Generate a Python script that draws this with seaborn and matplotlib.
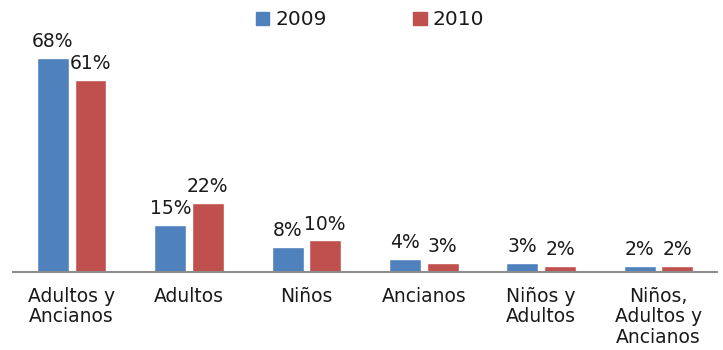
import matplotlib
matplotlib.use("Agg")
import matplotlib.pyplot as plt
import seaborn as sns
import pandas as pd

categories = ["Adultos y\nAncianos", "Adultos", "Niños", "Ancianos",
              "Niños y\nAdultos", "Niños,\nAdultos y\nAncianos"]
years = ["2009", "2010"]
values_2009 = [68, 15, 8, 4, 3, 2]
values_2010 = [61, 22, 10, 3, 2, 2]
colors = ["#4F81BD", "#C0504D"]

df = pd.DataFrame({
    "categoria": categories * 2,
    "anio": [years[0]] * len(categories) + [years[1]] * len(categories),
    "valor": values_2009 + values_2010,
})

sns.set_theme(style="white")
plt.rcParams["font.family"] = ["DejaVu Sans"]

fig = plt.figure(figsize=(7.23, 3.5), dpi=100)
ax = fig.add_axes([0.018, 0.223, 0.974, 0.72])

sns.barplot(data=df, x="categoria", y="valor", hue="anio",
            palette=colors, width=0.64, gap=0.15, saturation=1,
            order=categories, hue_order=years, ax=ax, legend=False)

for cont in ax.containers:
    ax.bar_label(cont, labels=[f"{v:.0f}%" for v in cont.datavalues],
                 padding=5, fontsize=13.5, color="#1a1a1a")

ax.set_ylim(0, 80)
ax.set_xlim(-0.5, len(categories) - 0.5)
ax.set_xlabel("")
ax.set_ylabel("")
ax.set_yticks([])
for side in ["top", "right", "left"]:
    ax.spines[side].set_visible(False)
ax.spines["bottom"].set_color("#8c8c8c")
ax.spines["bottom"].set_linewidth(1.5)
ax.tick_params(axis="x", length=0, pad=11, labelsize=13.5, labelcolor="#1a1a1a")
for lbl in ax.get_xticklabels():
    lbl.set_multialignment("center")
    lbl.set_linespacing(1.08)

handles = [plt.Rectangle((0, 0), 1, 1, color=c) for c in colors]
fig.legend(handles, years, loc="center", bbox_to_anchor=(0.512, 0.943),
           ncol=2, frameon=False, fontsize=14.5, handlelength=0.65,
           handleheight=0.65, handletextpad=0.3, columnspacing=4.3,
           labelcolor="#1a1a1a")

fig.savefig("out.png", dpi=100, facecolor="white")
